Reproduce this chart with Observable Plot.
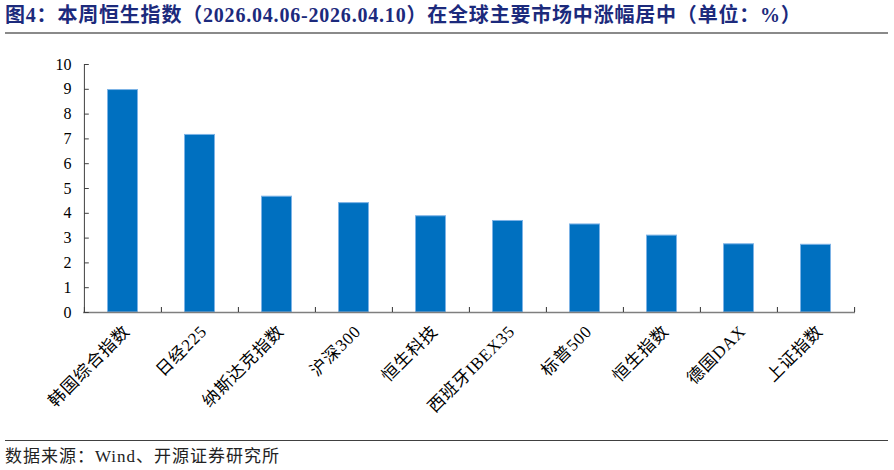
<!DOCTYPE html>
<html>
<head>
<meta charset="utf-8">
<script src="https://cdn.jsdelivr.net/npm/d3@7"></script>
<script src="https://cdn.jsdelivr.net/npm/@observablehq/plot@0.6"></script>
<style>
  html, body { margin: 0; padding: 0; background: #fff; }
  #wrap { position: relative; width: 894px; height: 470px; overflow: hidden; }
  #title { position: absolute; left: 5px; top: 2px; font: bold 20px "Liberation Serif", "Noto Sans CJK SC", serif; line-height: 26px; color: #1c2a7c; white-space: nowrap; letter-spacing: 0.8px; }
  #tline { position: absolute; left: 5px; top: 32px; width: 883px; height: 2px; background: #8a8a8a; }
  #chart { position: absolute; left: 0; top: 34px; }
  #bline { position: absolute; left: 5px; top: 440px; width: 883px; height: 1px; background: #404040; }
  #caption { position: absolute; left: 5px; top: 447px; font: 17px "Liberation Serif", "Noto Sans CJK SC", serif; line-height: 20px; color: #222; letter-spacing: 1px; white-space: nowrap; }
  .xlab text { letter-spacing: 0.8px; }
</style>
</head>
<body>
<div id="wrap">
  <div id="title">图4：本周恒生指数（2026.04.06-2026.04.10）在全球主要市场中涨幅居中（单位：%）</div>
  <div id="tline"></div>
  <div id="chart"></div>
  <div id="bline"></div>
  <div id="caption">数据来源：Wind、开源证券研究所</div>
</div>
<script>
const categories = ["韩国综合指数", "日经225", "纳斯达克指数", "沪深300", "恒生科技", "西班牙IBEX35", "标普500", "恒生指数", "德国DAX", "上证指数"];
const values = [8.97, 7.16, 4.67, 4.41, 3.88, 3.69, 3.55, 3.10, 2.75, 2.73];
const yTicks = [0, 1, 2, 3, 4, 5, 6, 7, 8, 9, 10];

const data = categories.map((c, i) => ({name: c, value: values[i]}));

const W = 894, H = 400, mL = 83, mR = 39, mT = 30, mB = 122;
const band = (W - mL - mR) / categories.length;
const plotH = H - mT - mB;
const font = '"Liberation Serif", "Noto Sans CJK SC", serif';

const chart = Plot.plot({
  width: W,
  height: H,
  marginLeft: mL,
  marginRight: mR,
  marginTop: mT,
  marginBottom: mB,
  style: {fontFamily: font, fontSize: "16px", color: "#000", background: "#fff"},
  x: {type: "band", domain: categories, padding: 0, axis: null},
  y: {domain: [0, 10], ticks: yTicks, axis: null},
  marks: [
    Plot.barY(data, {x: "name", y: "value", fill: "#0070c0", stroke: "#7db3e6", strokeWidth: 1, insetLeft: 23.5, insetRight: 23.5}),
    // x baseline
    Plot.ruleY([0], {stroke: "#7f7f7f", strokeWidth: 1.5}),
    // x-axis ticks at band boundaries (upward)
    Plot.ruleX(categories, {x: d => d, dx: -band / 2, y1: 10, y2: 0, insetTop: plotH - 5, stroke: "#333", strokeWidth: 1}),
    Plot.ruleX(categories.slice(-1), {x: d => d, dx: band / 2, y1: 10, y2: 0, insetTop: plotH - 5, stroke: "#333", strokeWidth: 1}),
    // y axis line
    Plot.ruleX(categories.slice(0, 1), {x: d => d, dx: -band / 2, y1: 10, y2: 0, stroke: "#404040", strokeWidth: 1}),
    // y-axis ticks (inward)
    Plot.tickY(yTicks, {x: () => categories[0], y: d => d, insetRight: band - 5, stroke: "#404040", strokeWidth: 1}),
    // y tick labels
    Plot.text(yTicks, {x: () => categories[0], y: d => d, dx: -band / 2 - 13, text: d => String(d), textAnchor: "end", fontSize: 16, fill: "#000"}),
    // x tick labels rotated
    Plot.text(categories, {x: d => d, y: () => 0, dx: 4, dy: 16, text: d => d, rotate: -45, textAnchor: "end", lineAnchor: "middle", fontSize: 17, fill: "#000", className: "xlab"})
  ]
});
document.getElementById("chart").appendChild(chart);
</script>
</body>
</html>
